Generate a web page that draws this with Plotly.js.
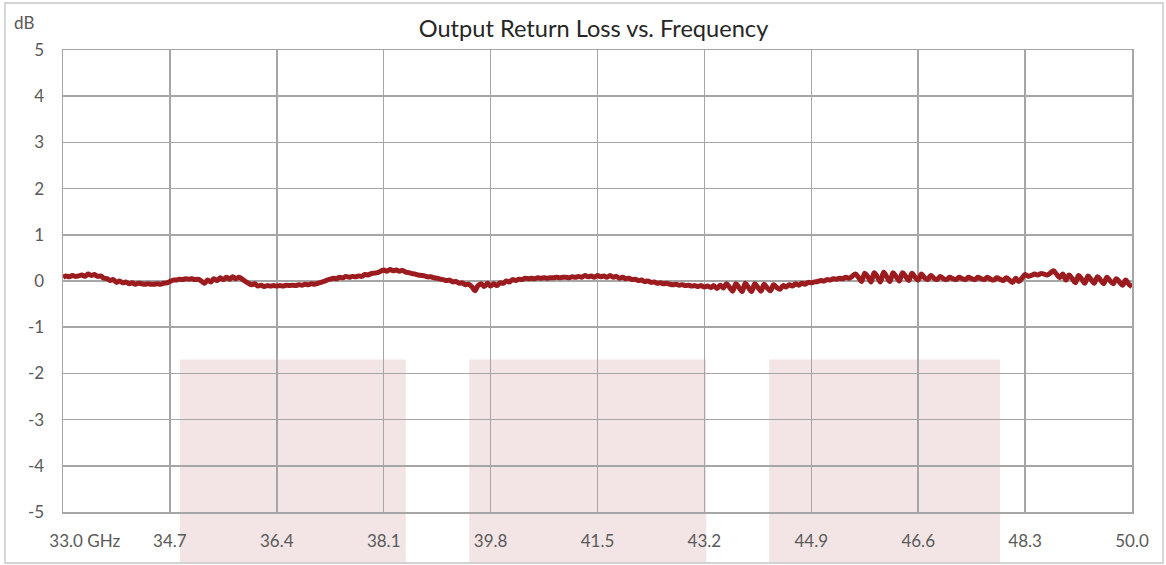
<!DOCTYPE html>
<html>
<head>
<meta charset="utf-8">
<script src="https://cdn.plot.ly/plotly-3.0.1.min.js"></script>
<style>html,body{margin:0;padding:0;background:#fff;}#chart{width:1166px;height:565px;}</style>
</head>
<body>
<div id="chart"></div>
<script>
// Frequency sweep (GHz)
var freqGHz = [
33,33.05,33.1,33.15,33.2,33.25,33.3,33.35,33.4,33.45,33.5,33.55,33.6,33.65,33.7,33.75,33.8,33.85,33.9,33.95,
34,34.05,34.1,34.15,34.2,34.25,34.3,34.35,34.4,34.45,34.5,34.55,34.6,34.65,34.7,34.75,34.8,34.85,34.9,34.95,
35,35.05,35.1,35.15,35.2,35.25,35.3,35.35,35.4,35.45,35.5,35.55,35.6,35.65,35.7,35.75,35.8,35.85,35.9,35.95,
36,36.05,36.1,36.15,36.2,36.25,36.3,36.35,36.4,36.45,36.5,36.55,36.6,36.65,36.7,36.75,36.8,36.85,36.9,36.95,
37,37.05,37.1,37.15,37.2,37.25,37.3,37.35,37.4,37.45,37.5,37.55,37.6,37.65,37.7,37.75,37.8,37.85,37.9,37.95,
38,38.05,38.1,38.15,38.2,38.25,38.3,38.35,38.4,38.45,38.5,38.55,38.6,38.65,38.7,38.75,38.8,38.85,38.9,38.95,
39,39.05,39.1,39.15,39.2,39.25,39.3,39.35,39.4,39.45,39.5,39.55,39.6,39.65,39.7,39.75,39.8,39.85,39.9,39.95,
40,40.05,40.1,40.15,40.2,40.25,40.3,40.35,40.4,40.45,40.5,40.55,40.6,40.65,40.7,40.75,40.8,40.85,40.9,40.95,
41,41.05,41.1,41.15,41.2,41.25,41.3,41.35,41.4,41.45,41.5,41.55,41.6,41.65,41.7,41.75,41.8,41.85,41.9,41.95,
42,42.05,42.1,42.15,42.2,42.25,42.3,42.35,42.4,42.45,42.5,42.55,42.6,42.65,42.7,42.75,42.8,42.85,42.9,42.95,
43,43.05,43.1,43.15,43.2,43.25,43.3,43.35,43.4,43.45,43.5,43.55,43.6,43.65,43.7,43.75,43.8,43.85,43.9,43.95,
44,44.05,44.1,44.15,44.2,44.25,44.3,44.35,44.4,44.45,44.5,44.55,44.6,44.65,44.7,44.75,44.8,44.85,44.9,44.95,
45,45.05,45.1,45.15,45.2,45.25,45.3,45.35,45.4,45.45,45.5,45.55,45.6,45.65,45.7,45.75,45.8,45.85,45.9,45.95,
46,46.05,46.1,46.15,46.2,46.25,46.3,46.35,46.4,46.45,46.5,46.55,46.6,46.65,46.7,46.75,46.8,46.85,46.9,46.95,
47,47.05,47.1,47.15,47.2,47.25,47.3,47.35,47.4,47.45,47.5,47.55,47.6,47.65,47.7,47.75,47.8,47.85,47.9,47.95,
48,48.05,48.1,48.15,48.2,48.25,48.3,48.35,48.4,48.45,48.5,48.55,48.6,48.65,48.7,48.75,48.8,48.85,48.9,48.95,
49,49.05,49.1,49.15,49.2,49.25,49.3,49.35,49.4,49.45,49.5,49.55,49.6,49.65,49.7,49.75,49.8,49.85,49.9,49.95,
50
];

// Output return loss (dB)
var returnLossDB = [
0.08,0.11,0.09,0.12,0.10,0.11,0.13,0.10,0.15,0.12,0.14,0.10,0.11,0.06,0.05,0.01,0.03,-0.03,0.00,-0.04,
-0.02,-0.06,-0.04,-0.07,-0.05,-0.06,-0.07,-0.06,-0.07,-0.07,-0.06,-0.07,-0.05,-0.04,-0.01,0.02,0.02,0.04,0.03,0.05,
0.04,0.05,0.03,0.04,0.00,-0.05,0.02,-0.02,0.05,0.01,0.07,0.03,0.08,0.04,0.09,0.05,0.08,0.04,-0.01,-0.05,
-0.08,-0.06,-0.11,-0.09,-0.12,-0.10,-0.11,-0.10,-0.11,-0.10,-0.11,-0.09,-0.10,-0.09,-0.10,-0.08,-0.09,-0.07,-0.08,-0.06,
-0.07,-0.05,-0.03,-0.01,0.02,0.04,0.06,0.05,0.08,0.07,0.10,0.08,0.10,0.09,0.11,0.10,0.14,0.13,0.16,0.17,
0.18,0.21,0.24,0.21,0.25,0.22,0.24,0.21,0.23,0.19,0.18,0.16,0.15,0.13,0.12,0.11,0.09,0.09,0.07,0.06,
0.04,0.03,0.01,0.02,-0.02,-0.01,-0.05,-0.04,-0.08,-0.07,-0.12,-0.21,-0.10,-0.06,-0.12,-0.05,-0.11,-0.06,-0.10,-0.04,
-0.05,0.00,-0.02,0.03,0.01,0.04,0.03,0.06,0.05,0.06,0.05,0.07,0.06,0.07,0.06,0.07,0.07,0.08,0.07,0.08,
0.08,0.07,0.09,0.08,0.10,0.08,0.12,0.09,0.11,0.08,0.12,0.09,0.11,0.08,0.12,0.08,0.10,0.06,0.08,0.05,
0.06,0.03,0.04,0.01,0.02,-0.01,0.00,-0.03,-0.02,-0.05,-0.04,-0.06,-0.05,-0.07,-0.08,-0.07,-0.09,-0.08,-0.10,-0.09,
-0.11,-0.10,-0.12,-0.10,-0.13,-0.11,-0.14,-0.10,-0.16,-0.09,-0.15,-0.06,-0.14,-0.22,-0.06,-0.14,-0.23,-0.05,-0.14,-0.23,
-0.06,-0.14,-0.22,-0.07,-0.15,-0.21,-0.08,-0.14,-0.18,-0.10,-0.13,-0.08,-0.11,-0.06,-0.09,-0.05,-0.07,-0.03,-0.04,-0.02,
-0.01,0.01,0.00,0.03,0.02,0.05,0.04,0.06,0.05,0.08,0.06,0.10,0.15,0.08,-0.01,0.17,0.09,-0.02,0.18,0.09,
-0.02,0.19,0.09,-0.01,0.18,0.09,0.00,0.18,0.10,0.01,0.17,0.08,0.02,0.15,0.07,0.03,0.12,0.06,0.03,0.10,
0.05,0.03,0.08,0.05,0.03,0.08,0.05,0.03,0.08,0.05,0.03,0.08,0.05,0.03,0.08,0.04,0.02,0.07,0.04,0.01,
0.07,0.02,-0.03,0.06,-0.01,0.06,0.14,0.10,0.12,0.15,0.13,0.16,0.15,0.13,0.17,0.22,0.15,0.07,0.15,0.02,
0.13,0.05,-0.04,0.12,0.04,-0.05,0.11,0.03,-0.05,0.09,0.02,-0.06,0.08,0.01,-0.06,0.05,-0.02,-0.09,0.02,-0.07,
-0.12
];

// Axis ticks
var xTickVals = [33.0, 34.7, 36.4, 38.1, 39.8, 41.5, 43.2, 44.9, 46.6, 48.3, 50.0];
var xTickText = ['\u00a0\u00a0\u00a0\u00a0\u00a0\u00a0\u00a0\u00a0\u00a0\u00a033.0 GHz', '34.7', '36.4', '38.1', '39.8', '41.5', '43.2', '44.9', '46.6', '48.3', '50.0'];
var yTickVals = [-5, -4, -3, -2, -1, 0, 1, 2, 3, 4, 5];
var yTickText = ['-5', '-4', '-3', '-2', '-1', '0', '1', '2', '3', '4', '5'];

// Shaded bands (GHz) and their top level (dB)
var bandStart = [34.86, 39.46, 44.23];
var bandEnd = [38.45, 43.23, 47.90];
var bandTopDB = -1.7;

var FONT = 'Lato, "Open Sans", sans-serif';
var yMin = -5, yMax = 5;
var bandTopPaper = (bandTopDB - yMin) / (yMax - yMin);

var shapes = [];
for (var i = 0; i < bandStart.length; i++) {
  shapes.push({
    type: 'rect', xref: 'x', yref: 'paper', layer: 'below',
    x0: bandStart[i], x1: bandEnd[i], y0: -0.108, y1: bandTopPaper,
    fillcolor: '#f3e5e5', line: {width: 0}
  });
}
// outer chart frame
shapes.push({
  type: 'rect', xref: 'paper', yref: 'paper', layer: 'below',
  x0: -0.0543, x1: 1.029, y0: -0.1104, y1: 1.1017,
  fillcolor: 'rgba(0,0,0,0)', line: {color: '#c4c4c4', width: 1.3}
});

var trace = {
  x: freqGHz, y: returnLossDB, type: 'scatter', mode: 'lines',
  line: {color: '#9b1b1f', width: 5, shape: 'spline', smoothing: 1},
  hoverinfo: 'x+y'
};

var layout = {
  width: 1166, height: 565,
  margin: {l: 63, r: 34, t: 50, b: 53},
  paper_bgcolor: '#ffffff', plot_bgcolor: 'rgba(0,0,0,0)',
  showlegend: false,
  font: {family: FONT, color: '#595959', size: 17},
  title: {
    text: 'Output Return Loss vs. Frequency',
    font: {family: FONT, size: 23.6, color: '#262626'},
    x: 0.509, xref: 'container', xanchor: 'center',
    y: 0.949, yref: 'container', yanchor: 'middle'
  },
  xaxis: {
    range: [33, 50], tickvals: xTickVals, ticktext: xTickText,
    showgrid: true, gridcolor: '#a6a6a6', gridwidth: 1.5,
    zeroline: false, showline: true, linecolor: '#a6a6a6', linewidth: 1.5, mirror: true,
    ticks: '', ticklabelstandoff: 13,
    tickfont: {family: FONT, size: 17, color: '#595959'}
  },
  yaxis: {
    range: [yMin, yMax], tickvals: yTickVals, ticktext: yTickText,
    showgrid: true, gridcolor: '#a6a6a6', gridwidth: 1.5,
    zeroline: false, showline: true, linecolor: '#a6a6a6', linewidth: 1.5, mirror: true,
    ticks: '', ticklabelstandoff: 14,
    tickfont: {family: FONT, size: 17, color: '#595959'}
  },
  shapes: shapes,
  annotations: [{
    text: 'dB', xref: 'paper', yref: 'paper',
    x: -0.0473, y: 1.0606, xanchor: 'left', yanchor: 'middle',
    showarrow: false, font: {family: FONT, size: 17, color: '#595959'}
  }]
};

Plotly.newPlot('chart', [trace], layout, {displayModeBar: false, staticPlot: true});
</script>
</body>
</html>
